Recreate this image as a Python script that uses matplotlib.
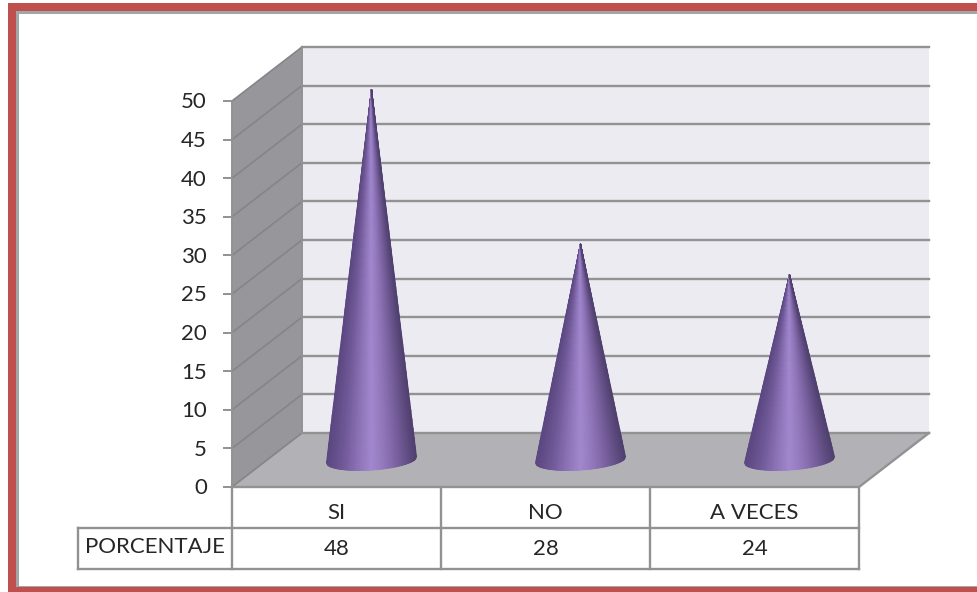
import numpy as np
import matplotlib
matplotlib.use("Agg")
import matplotlib.pyplot as plt
from matplotlib.colors import LinearSegmentedColormap
from matplotlib.patches import Polygon, Rectangle

# ========== 1. Data ==========
categories = ["SI", "NO", "A VECES"]
values = [48, 28, 24]
row_label = "PORCENTAJE"
y_ticks = list(range(0, 55, 5))

# ========== 2. Layout (pixels of the picture) ==========
W, H = 977, 592
px_x = 209.0    # pixels per category
px_y = 7.72     # pixels per y unit
x0_px, y0_px = 232, 487   # front corner of the floor, at value 0
dx = 70 / px_x  # depth of the 3d box in data units
dy = 54 / px_y

fig = plt.figure(figsize=(W / 100, H / 100), dpi=100)
ax = fig.add_axes([0, 0, 1, 1])
ax.set_xlim(-0.5 - x0_px / px_x, -0.5 + (W - x0_px) / px_x)
ax.set_ylim(-(H - y0_px) / px_y, y0_px / px_y)
ax.axis("off")

n = len(categories)
xl, xr = -0.5, n - 0.5
ymax = y_ticks[-1]
line_col = "#929292"
plt.rcParams["font.family"] = ["Lato", "DejaVu Sans"]
txt = dict(fontsize=16, color="#262626", ha="center", va="center")

# back wall, side wall, floor
ax.add_patch(Polygon([(xl + dx, dy), (xr + dx, dy), (xr + dx, ymax + dy), (xl + dx, ymax + dy)],
                     fc="#ecebf1", ec="none", zorder=1))
ax.add_patch(Polygon([(xl, 0), (xl + dx, dy), (xl + dx, ymax + dy), (xl, ymax)],
                     fc="#97979b", ec="none", zorder=1))
ax.add_patch(Polygon([(xl, 0), (xr, 0), (xr + dx, dy), (xl + dx, dy)],
                     fc="#b2b1b5", ec="none", zorder=2))

# gridlines
for t in y_ticks:
    if t > 0:
        ax.plot([xl + dx, xr + dx], [t + dy, t + dy], color=line_col, lw=1.7, zorder=2)
    ax.plot([xl, xl + dx], [t, t + dy], color="#858588", lw=1.2, zorder=2)
    ax.plot([xl - 0.04, xl], [t, t], color=line_col, lw=1.4, zorder=3)
    ax.text(xl - 0.12, t - 1.5 / px_y, str(t), ha="right", va="center", fontsize=16, color="#262626")
ax.plot([xl + dx, xl + dx], [dy, ymax + dy], color=line_col, lw=1.4, zorder=2)
ax.plot([xl, xl], [0, ymax], color=line_col, lw=1.4, zorder=2)
ax.plot([xl, xr, xr + dx], [0, 0, dy], color=line_col, lw=1.7, zorder=3)
ax.plot([xl + dx, xr + dx], [dy, dy], color=line_col, lw=1.7, zorder=2)

# ========== 3. Cones ==========
cone_cmap = LinearSegmentedColormap.from_list(
    "cone", ["#5b4781", "#6f5896", "#8a70b4", "#a289cf", "#8f75b8", "#725b97", "#50406f"])
hw = 45 / px_x
ry = 10 / px_y
tilt = 3 / px_y
u = np.linspace(-1, 1, 81)
s = np.linspace(0, 1, 40)
U, S = np.meshgrid(u, s)
for i, v in enumerate(values):
    cx = i + dx / 2
    base = dy / 2
    X = cx + hw * (1 - S) * U
    Y = base + v * S + (1 - S) * (tilt * U - ry * np.sqrt(1 - U ** 2))
    ax.pcolormesh(X, Y, U, cmap=cone_cmap, shading="gouraud", vmin=-1, vmax=1, zorder=4)

# ========== 4. Data table ==========
row2 = -(569 - y0_px) / px_y
mid = -(528 - y0_px) / px_y
left = xl - 154 / px_x
for i in range(n + 1):
    ax.plot([xl + i, xl + i], [0, row2], color=line_col, lw=1.7, zorder=3)
ax.plot([left, xr], [mid, mid], color=line_col, lw=1.7, zorder=3)
ax.plot([left, xr], [row2, row2], color=line_col, lw=1.7, zorder=3)
ax.plot([left, left], [mid, row2], color=line_col, lw=1.7, zorder=3)
for i, (c, v) in enumerate(zip(categories, values)):
    ax.text(i, -(513 - y0_px) / px_y, c, **txt)
    ax.text(i, -(549 - y0_px) / px_y, str(v), **txt)
ax.text((left + xl) / 2, -(547 - y0_px) / px_y, row_label, **txt)

# ========== 5. Red frame ==========
def px_rect(x, y, w, h, col):
    fig.add_artist(Rectangle((x / W, 1 - (y + h) / H), w / W, h / H, fc=col, ec="none",
                             transform=fig.transFigure))

frame_red = "#c0504d"
px_rect(16, 11, W - 16, 2.5, "#a3a6a6")
px_rect(16, 11, 2.5, 576, "#a3a6a6")
px_rect(16, 585.5, W - 16, 2, "#a3a6a6")
px_rect(8, 3, W - 8, 8, frame_red)
px_rect(8, 3, 8, H - 3, frame_red)
px_rect(8, 587, W - 8, 5, frame_red)

plt.savefig("out.png", dpi=100)
